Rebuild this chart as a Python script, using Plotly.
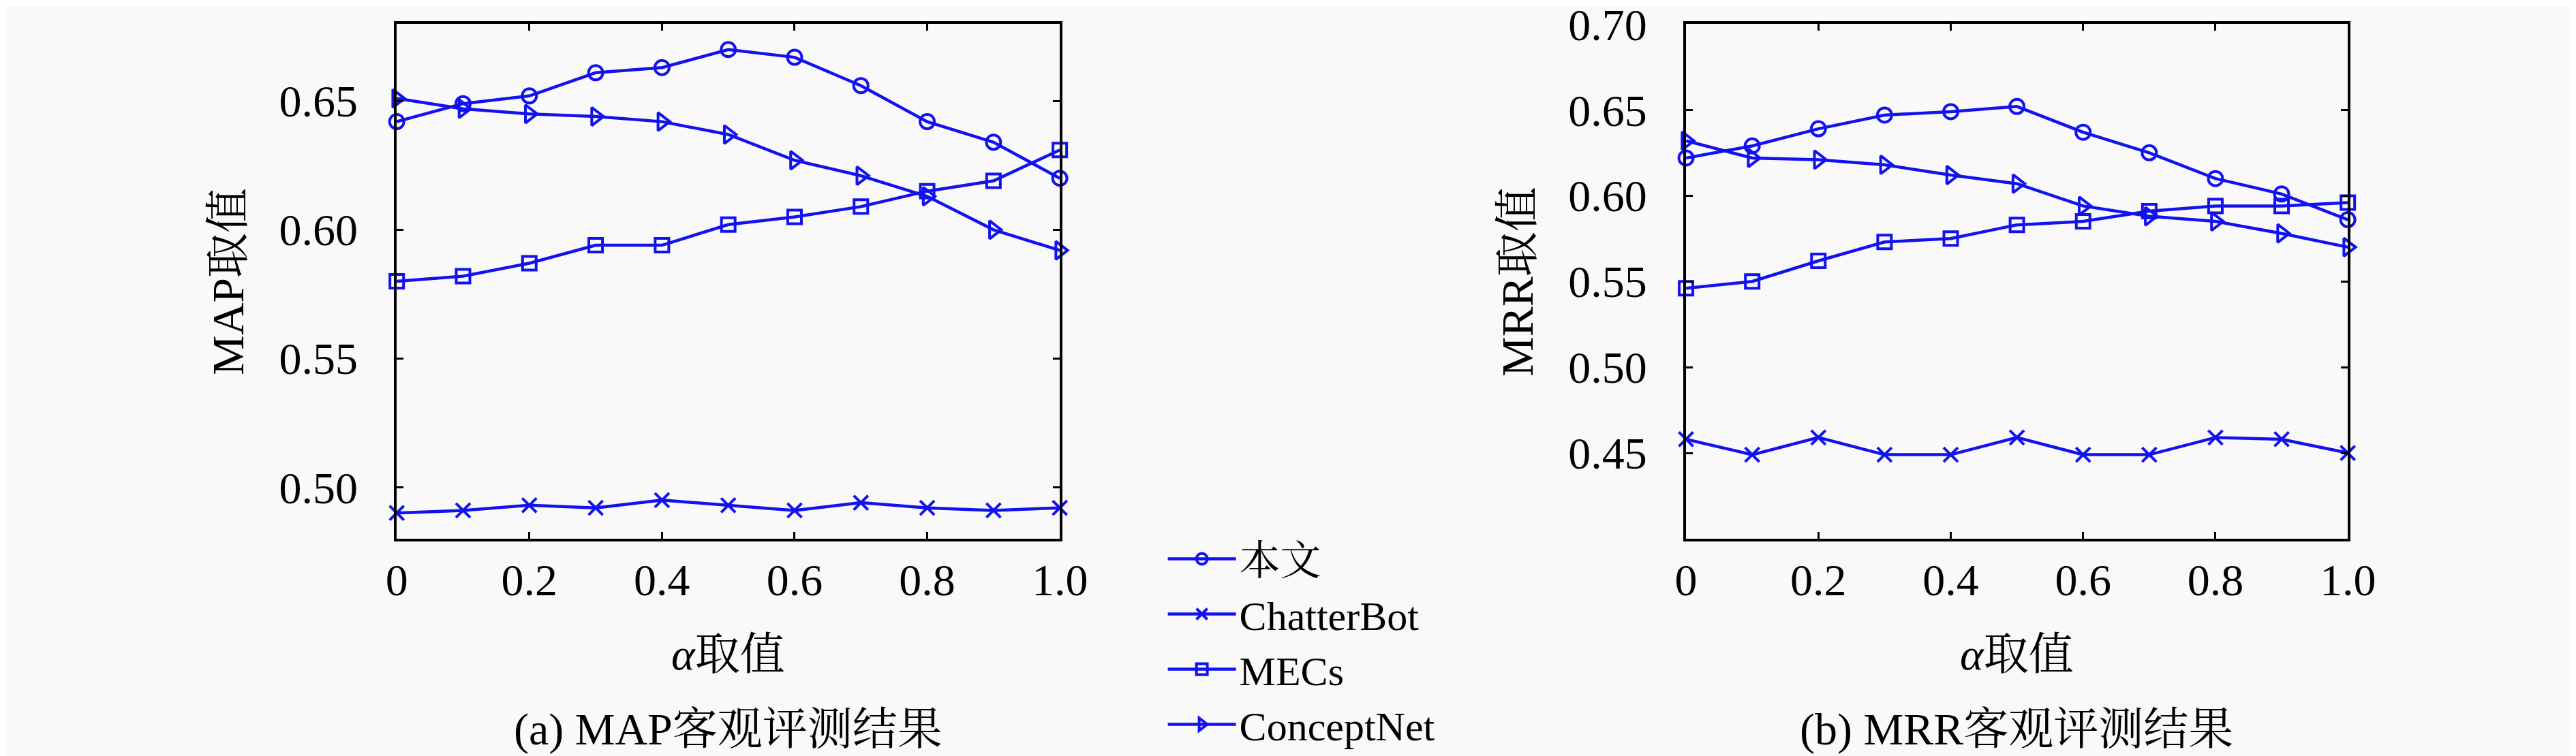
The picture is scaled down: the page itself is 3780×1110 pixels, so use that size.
import plotly.graph_objects as go
from plotly.subplots import make_subplots

# alpha values on the x axis
alpha = [0, 0.1, 0.2, 0.3, 0.4, 0.5, 0.6, 0.7, 0.8, 0.9, 1.0]
x_ticks = [0, 0.2, 0.4, 0.6, 0.8, 1.0]
x_ticktext = ["0", "0.2", "0.4", "0.6", "0.8", "1.0"]

# (a) MAP
map_ours = [0.642, 0.649, 0.652, 0.661, 0.663, 0.670, 0.667, 0.656, 0.642, 0.634, 0.620]
map_chatterbot = [0.490, 0.491, 0.493, 0.492, 0.495, 0.493, 0.491, 0.494, 0.492, 0.491, 0.492]
map_mecs = [0.580, 0.582, 0.587, 0.594, 0.594, 0.602, 0.605, 0.609, 0.615, 0.619, 0.631]
map_conceptnet = [0.651, 0.647, 0.645, 0.644, 0.642, 0.637, 0.627, 0.621, 0.613, 0.600, 0.592]
map_yticks = [0.50, 0.55, 0.60, 0.65]

# (b) MRR
mrr_ours = [0.622, 0.629, 0.639, 0.647, 0.649, 0.652, 0.637, 0.625, 0.610, 0.601, 0.586]
mrr_chatterbot = [0.458, 0.449, 0.459, 0.449, 0.449, 0.459, 0.449, 0.449, 0.459, 0.458, 0.450]
mrr_mecs = [0.546, 0.550, 0.562, 0.573, 0.575, 0.583, 0.585, 0.591, 0.594, 0.594, 0.596]
mrr_conceptnet = [0.632, 0.622, 0.621, 0.618, 0.612, 0.607, 0.594, 0.588, 0.585, 0.578, 0.570]
mrr_yticks = [0.45, 0.50, 0.55, 0.60, 0.65, 0.70]

names = ["本文", "ChatterBot", "MECs", "ConceptNet"]
symbols = ["circle-open", "x-thin-open", "square-open", "triangle-right-open"]
sizes = [21, 21, 20, 23]

BLUE = "rgb(18,18,240)"
FONT = "Liberation Serif, Noto Serif CJK SC, Noto Sans CJK SC, serif"
FS = 66

fig = make_subplots(rows=1, cols=2)

for col, series in [(1, [map_ours, map_chatterbot, map_mecs, map_conceptnet]),
                    (2, [mrr_ours, mrr_chatterbot, mrr_mecs, mrr_conceptnet])]:
    for i, ys in enumerate(series):
        fig.add_trace(
            go.Scatter(
                x=alpha, y=ys, mode="lines+markers", name=names[i],
                showlegend=(col == 1),
                line=dict(color=BLUE, width=4.5),
                marker=dict(symbol=symbols[i], size=sizes[i], color=BLUE,
                            line=dict(color=BLUE, width=4)),
                cliponaxis=False,
            ),
            row=1, col=col,
        )

axis_common = dict(
    showline=True, linecolor="black", linewidth=4, mirror="ticks",
    ticks="inside", ticklen=10, tickwidth=3, tickcolor="black",
    showgrid=False, zeroline=False, ticklabeloverflow="allow",
    automargin=False,
    tickfont=dict(family=FONT, size=FS, color="black"),
)

fig.update_xaxes(range=[0, 1], tickvals=x_ticks, ticktext=x_ticktext,
                 ticklabelstandoff=0, **axis_common)
fig.update_xaxes(domain=[0.1519, 0.4093], row=1, col=1)
fig.update_xaxes(domain=[0.6524, 0.9093], row=1, col=2)

fig.update_yaxes(domain=[0.2946, 0.9757], ticklabelstandoff=40, **axis_common)
fig.update_yaxes(range=[0.48, 0.68], tickvals=map_yticks,
                 ticktext=[f"{v:.2f}" for v in map_yticks], row=1, col=1)
fig.update_yaxes(range=[0.40, 0.7002], tickvals=mrr_yticks,
                 ticktext=[f"{v:.2f}" for v in mrr_yticks], row=1, col=2)

labels = [
    dict(x=0.0862, y=0.635, text="MAP取值", textangle=-90),
    dict(x=0.5867, y=0.635, text="MRR取值", textangle=-90),
    dict(x=0.2806, y=0.142, text="<i>α</i>取值"),
    dict(x=0.7808, y=0.142, text="<i>α</i>取值"),
    dict(x=0.2806, y=0.042, text="(a) MAP客观评测结果"),
    dict(x=0.7808, y=0.042, text="(b) MRR客观评测结果"),
]
for a in labels:
    fig.add_annotation(xref="paper", yref="paper", showarrow=False,
                       xanchor="center", yanchor="middle",
                       font=dict(family=FONT, size=FS, color="black"), **a)

fig.update_layout(
    width=3780, height=1110,
    margin=dict(l=0, r=0, t=0, b=0, autoexpand=False),
    paper_bgcolor="#f9f9f9", plot_bgcolor="#f9f9f9",
    showlegend=True,
    legend=dict(x=0.4499, y=0.309, xanchor="left", yanchor="top",
                bgcolor="rgba(0,0,0,0)", itemwidth=100,
                font=dict(family=FONT, size=60, color="black")),
)

fig.write_html("out.html")
